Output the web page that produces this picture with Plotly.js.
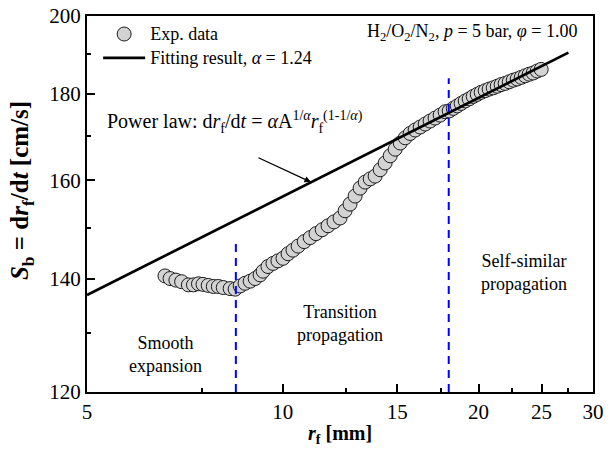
<!DOCTYPE html>
<html>
<head>
<meta charset="utf-8">
<script src="https://cdn.plot.ly/plotly-3.0.1.min.js"></script>
<style>
  html, body { margin: 0; padding: 0; background: #ffffff; }
  #chart { width: 611px; height: 457px; }
</style>
</head>
<body>
<div id="chart"></div>
<script>
// Flame radius r_f (mm) and propagation speed S_b (cm/s)
const radius = [
  6.59, 6.71, 6.85, 6.99, 7.16, 7.29, 7.42, 7.54, 7.68, 7.82, 7.96, 8.10, 8.30, 8.45,
  8.60, 8.75, 8.91, 9.07, 9.23, 9.33, 9.49, 9.66, 9.83, 10.01, 10.19, 10.37, 10.56,
  10.79, 11.02, 11.25, 11.50, 11.74, 11.99, 12.25, 12.47, 12.69, 12.92, 13.15, 13.39,
  13.63, 13.87, 14.12, 14.37, 14.63, 14.89, 15.16, 15.43, 15.70, 15.98, 16.27, 16.56,
  16.85, 17.15, 17.46, 17.77,
  18.03, 18.29, 18.55, 18.81, 19.08, 19.35, 19.63, 19.91, 20.19, 20.48, 20.77, 21.07,
  21.37, 21.67, 21.98, 22.30, 22.62, 22.94, 23.27, 23.60, 23.93, 24.27, 24.62, 24.97
];
const speed = [
  140.5, 140.0, 139.7, 139.4, 138.8, 138.8, 139.0, 138.9, 138.7, 138.5, 138.5, 138.3, 138.1, 138.0,
  138.6, 139.1, 139.5, 140.0, 140.7, 141.4, 142.3, 142.9, 143.4, 143.9, 144.8, 145.5, 146.3,
  147.2, 148.0, 148.8, 149.6, 150.4, 151.2, 152.0, 153.5, 154.9, 156.6, 158.3, 159.6,
  160.3, 160.9, 162.3, 163.8, 165.4, 166.9, 168.3, 169.5, 170.5, 171.3, 172.0, 172.7,
  173.4, 174.1, 174.8, 175.6,
  175.8, 176.4, 177.0, 177.6, 178.2, 178.7, 179.3, 179.8, 180.3, 180.7, 181.1, 181.4,
  181.8, 182.2, 182.5, 182.9, 183.3, 183.6, 184.0, 184.4, 184.8, 185.1, 185.6, 186.0
];

// Power-law fit (straight on log-log axes): end points
const fitRadius = [5, 27.5];
const fitSpeed = [136.9, 190.3];

// Regime boundaries
const boundaryRadius = [8.47, 18.0];
const boundaryTop = [146.9, 183.8];

// Axis ticks
const xTickVals = [5, 10, 15, 20, 25, 30];
const xMinorVals = [7.5, 12.5, 17.5, 22.5, 27.5];
const yTickVals = [120, 140, 160, 180, 200];
const yMinorVals = [130, 150, 170, 190];

const serif = 'Liberation Serif, Times New Roman, serif';
const big = s => '<span style="font-size:18px">' + s + '</span>';

const traces = [
  {
    x: radius, y: speed, type: 'scatter', mode: 'markers', name: big('Exp. data'),
    marker: { symbol: 'circle', size: 14, color: '#d3d3d3', line: { color: '#1a1a1a', width: 1 } }
  },
  {
    x: fitRadius, y: fitSpeed, type: 'scatter', mode: 'lines',
    name: big('Fitting result, <i>α</i> = 1.24'),
    line: { color: '#000000', width: 2.7 }
  }
];
boundaryRadius.forEach((r, i) => {
  traces.push({
    x: [r, r], y: [120, boundaryTop[i]], type: 'scatter', mode: 'lines',
    showlegend: false, hoverinfo: 'skip',
    line: { color: '#0000ff', width: 2, dash: '8px,6px' }
  });
});

const axisCommon = {
  type: 'log', showgrid: false, zeroline: false,
  showline: true, linecolor: '#000', linewidth: 2, mirror: true,
  ticks: 'inside', ticklen: 8, tickwidth: 2, tickcolor: '#000',
  tickmode: 'array',
  tickfont: { family: serif, size: 21, color: '#000' }
};

const layout = {
  width: 611, height: 457,
  margin: { l: 87, r: 18, t: 16, b: 65 },
  paper_bgcolor: '#fff', plot_bgcolor: '#fff',
  font: { family: serif, color: '#000' },
  showlegend: true,
  legend: {
    x: 0.022, y: 0.997, xanchor: 'left', yanchor: 'top',
    bgcolor: 'rgba(0,0,0,0)', borderwidth: 0,
    font: { family: serif, size: 16, color: '#000' },
    itemwidth: 42, tracegroupgap: 0
  },
  xaxis: Object.assign({}, axisCommon, {
    range: [Math.log10(5), Math.log10(30)],
    tickvals: xTickVals, ticktext: xTickVals.map(String),
    minor: { tickmode: 'array', tickvals: xMinorVals, ticks: 'inside', ticklen: 4, tickwidth: 2, tickcolor: '#000' }
  }),
  yaxis: Object.assign({}, axisCommon, {
    range: [Math.log10(120), Math.log10(200)],
    tickvals: yTickVals, ticktext: yTickVals.map(String),
    minor: { tickmode: 'array', tickvals: yMinorVals, ticks: 'inside', ticklen: 4, tickwidth: 2, tickcolor: '#000' }
  }),
  annotations: [
    {
      xref: 'paper', yref: 'paper', x: 0.035, y: 0.717, xanchor: 'left', yanchor: 'middle',
      showarrow: false, font: { family: serif, size: 20 },
      text: 'Power law: d<i>r</i><sub>f</sub>/d<i>t</i> = <i>α</i>A<sup>1/<i>α</i></sup><i>r</i><sub>f</sub><sup>(1-1/<i>α</i>)</sup>'
    },
    {
      xref: 'x', yref: 'y', x: Math.log10(11.05), y: Math.log10(159.6), text: '',
      showarrow: true, ax: -54, ay: -25, arrowhead: 2, arrowsize: 1, arrowwidth: 1.3,
      arrowcolor: '#000', standoff: 0
    },
    {
      xref: 'paper', yref: 'paper', x: 0.973, y: 0.957, xanchor: 'right', yanchor: 'middle',
      showarrow: false, font: { family: serif, size: 18 },
      text: 'H<sub>2</sub>/O<sub>2</sub>/N<sub>2</sub>, <i>p</i> = 5 bar, <i>φ</i> = 1.00'
    },
    {
      xref: 'paper', yref: 'paper', x: 0.155, y: 0.1, xanchor: 'center', yanchor: 'middle',
      showarrow: false, font: { family: serif, size: 18 }, text: 'Smooth<br>expansion'
    },
    {
      xref: 'paper', yref: 'paper', x: 0.5, y: 0.183, xanchor: 'center', yanchor: 'middle',
      showarrow: false, font: { family: serif, size: 18 }, text: 'Transition<br>propagation'
    },
    {
      xref: 'paper', yref: 'paper', x: 0.8636, y: 0.3165, xanchor: 'center', yanchor: 'middle',
      showarrow: false, font: { family: serif, size: 18 }, text: 'Self-similar<br>propagation'
    },
    {
      xref: 'paper', yref: 'paper', x: 0.5, y: -0.112, xanchor: 'center', yanchor: 'middle',
      showarrow: false, font: { family: serif, size: 20 },
      text: '<b><i>r</i><sub>f</sub> [mm]</b>'
    },
    {
      xref: 'paper', yref: 'paper', x: -0.128, y: 0.535, xanchor: 'center', yanchor: 'middle',
      showarrow: false, textangle: -90, font: { family: serif, size: 25 },
      text: '<b><i>S</i><sub>b</sub> = d<i>r</i><sub>f</sub>/d<i>t</i> [cm/s]</b>'
    }
  ]
};

Plotly.newPlot('chart', traces, layout, { displayModeBar: false, staticPlot: true });
</script>
</body>
</html>
